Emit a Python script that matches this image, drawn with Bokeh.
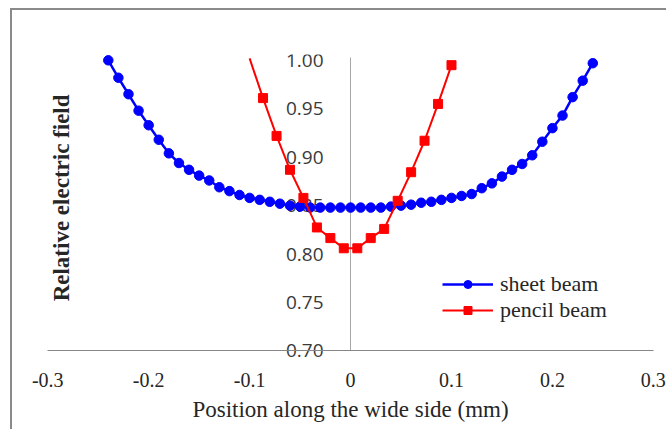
from bokeh.plotting import figure
from bokeh.models import (Range1d, LinearAxis, FixedTicker, NumeralTickFormatter,
                          Legend, LegendItem, Label)
from bokeh.embed import file_html
from bokeh.resources import INLINE
import math

# ---- data ----
sheet_x = [-0.24, -0.23, -0.22, -0.21, -0.20, -0.19, -0.18, -0.17, -0.16, -0.15,
           -0.14, -0.13, -0.12, -0.11, -0.10, -0.09, -0.08, -0.07, -0.06, -0.05,
           -0.04, -0.03, -0.02, -0.01, 0.00, 0.01, 0.02, 0.03, 0.04, 0.05,
           0.06, 0.07, 0.08, 0.09, 0.10, 0.11, 0.12, 0.13, 0.14, 0.15,
           0.16, 0.17, 0.18, 0.19, 0.20, 0.21, 0.22, 0.23, 0.24]
sheet_y = [1.000, 0.982, 0.965, 0.948, 0.933, 0.918, 0.904, 0.894, 0.887, 0.881,
           0.876, 0.869, 0.865, 0.861, 0.858, 0.856, 0.854, 0.852, 0.850, 0.849,
           0.848, 0.848, 0.848, 0.848, 0.848, 0.848, 0.848, 0.848, 0.849, 0.850,
           0.851, 0.853, 0.854, 0.856, 0.858, 0.860, 0.862, 0.868, 0.873, 0.880,
           0.887, 0.893, 0.902, 0.916, 0.930, 0.943, 0.962, 0.979, 0.997]

pencil_x = [-0.1, -0.0867, -0.0733, -0.06, -0.0467, -0.0333, -0.02, -0.0067,
            0.0067, 0.02, 0.0333, 0.0467, 0.06, 0.0733, 0.0867, 0.1]
pencil_y = [1.002, 0.961, 0.922, 0.887, 0.858, 0.8275, 0.8165, 0.806,
            0.806, 0.8165, 0.826, 0.855, 0.8845, 0.917, 0.955, 0.995]

x_ticks = [-0.3, -0.2, -0.1, 0, 0.1, 0.2, 0.3]
y_ticks = [0.70, 0.75, 0.80, 0.85, 0.90, 0.95, 1.00]
series_names = ["sheet beam", "pencil beam"]
x_title = "Position along the wide side (mm)"
y_title = "Relative electric field"

X_MIN, X_MAX = -0.3, 0.3   # category axis limits of the original chart
Y_MIN, Y_MAX = 0.70, 1.0   # value axis limits of the original chart

p = figure(width=656, height=421, output_backend="svg", toolbar_location=None,
           x_range=Range1d(-0.325, 0.315), y_range=Range1d(0.62, 1.006),
           y_axis_location=None, x_axis_location=None,
           min_border_left=10, min_border_right=0,
           min_border_top=44, min_border_bottom=3,
           styles={"margin-left": "10px", "margin-top": "8px",
                   "border-top": "2px solid #8a8a8a",
                   "border-left": "2px solid #8a8a8a"})
p.outline_line_color = None
p.background_fill_color = "white"
p.border_fill_color = "white"
p.grid.grid_line_color = None
p.grid.visible = False

# x axis drawn at y = 0.70
xa = LinearAxis(fixed_location=Y_MIN, ticker=FixedTicker(ticks=x_ticks),
                formatter=NumeralTickFormatter(format="0.[0]"),
                bounds=(X_MIN, X_MAX))
xa.axis_line_color = "#868686"
xa.axis_line_width = 1
xa.major_tick_out = 0
xa.major_tick_in = 0
xa.minor_tick_out = 0
xa.minor_tick_in = 0
xa.major_label_text_font = "Liberation Serif"
xa.major_label_text_font_size = "20px"
xa.major_label_text_color = "#262626"
xa.major_label_standoff = 22
xa.axis_label = x_title
xa.axis_label_text_font = "Liberation Serif"
xa.axis_label_text_font_size = "23px"
xa.axis_label_text_font_style = "normal"
xa.axis_label_text_color = "#262626"
xa.axis_label_standoff = 7
p.add_layout(xa, "below")

# y axis drawn at x = 0, behind the data
ya = LinearAxis(fixed_location=0, ticker=FixedTicker(ticks=y_ticks),
                formatter=NumeralTickFormatter(format="0.00"),
                bounds=(Y_MIN, 1.003))
ya.axis_line_color = "#a8a8a8"
ya.axis_line_width = 1
ya.major_tick_out = 0
ya.major_tick_in = 0
ya.minor_tick_out = 0
ya.minor_tick_in = 0
ya.major_label_text_font = "Open Sans"
ya.major_label_text_font_size = "19px"
ya.major_label_text_color = "#3a3a3a"
ya.major_label_standoff = 27
ya.level = "underlay"
p.add_layout(ya, "left")

# series
blue_line = p.line(sheet_x, sheet_y, line_color="#0000ff", line_width=2.5)
blue_pts = p.scatter(sheet_x, sheet_y, marker="circle", size=9.5,
                     fill_color="#0000ff", line_color="#0000ff")

mx = [x for x, y in zip(pencil_x, pencil_y) if y <= Y_MAX]
my = [y for y in pencil_y if y <= Y_MAX]
red_line = p.line(pencil_x, pencil_y, line_color="#ff0000", line_width=2)
red_pts = p.scatter(mx, my, marker="square", size=9,
                    fill_color="#ff0000", line_color="#ff0000")

# y title inside the chart area
p.add_layout(Label(x=-0.2866, y=0.858, text=y_title, angle=math.pi / 2,
                   text_align="center", text_baseline="middle",
                   text_font="Liberation Serif", text_font_size="23px",
                   text_font_style="bold", text_color="#262626"))

legend = Legend(items=[LegendItem(label=series_names[0], renderers=[blue_line, blue_pts]),
                       LegendItem(label=series_names[1], renderers=[red_line, red_pts])],
                location=(420, 105), padding=0, margin=0, spacing=0,
                glyph_width=51, glyph_height=20, label_height=20,
                label_standoff=7, border_line_color=None,
                background_fill_alpha=0,
                label_text_font="Liberation Serif", label_text_font_size="22px",
                label_text_color="#262626")
p.add_layout(legend, "center")

open("out.html", "w").write(file_html(p, INLINE))
